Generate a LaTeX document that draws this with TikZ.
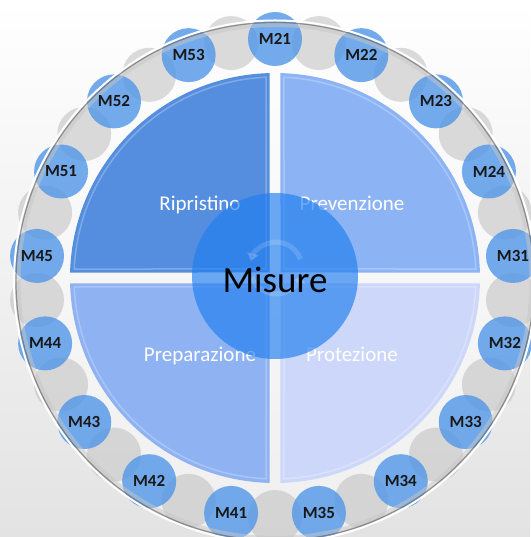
\documentclass[tikz,border=0pt]{standalone}
\usepackage{fontspec}
\setmainfont{Carlito}
\usetikzlibrary{arrows.meta}
\definecolor{bubblue}{RGB}{80,150,232}
\definecolor{bubgray}{RGB}{185,185,185}
\definecolor{qrip}{RGB}{85,142,222}
\definecolor{qprev}{RGB}{140,180,245}
\definecolor{qprep}{RGB}{142,178,242}
\definecolor{qprot}{RGB}{205,215,250}
\definecolor{coreblue}{RGB}{30,125,240}
\begin{document}
\begin{tikzpicture}[x=1pt,y=1pt,
  bubble/.style={circle, minimum size=54pt, inner sep=0pt, fill=bubblue, fill opacity=0.8, text opacity=1},
  bublabel/.style={font=\fontsize{17}{20}\selectfont\bfseries, inner sep=0pt, text=black!90},
  graybub/.style={fill=bubgray, fill opacity=0.5},
  qlabel/.style={text=white, font=\fontsize{21}{24}\selectfont, anchor=base, inner sep=0pt},
  bevel/.style={draw=white, draw opacity=0.25, line width=1.5pt},
  rimdark/.style={draw=black!55, draw opacity=0.75, line width=1.2pt},
  rimlight/.style={draw=white, line width=2pt},
  rimshade/.style={draw=black!22, draw opacity=0.5, line width=4pt},
  recyc/.style={white, opacity=0.15, line width=5pt, -{Triangle[length=8pt,width=12pt]}},
]
\useasboundingbox (-275,-259) rectangle (255,278);
\shade[shading angle=45, top color=white, bottom color=black!11] (-275,-259) rectangle (255,278);
% platter
\fill[white, fill opacity=0.45] (0,-3) circle (258);
% quadrants
\def\g{5.5}
\def\R{205}
\def\gi{9}
\def\Ri{201}
\foreach \rot/\col in {0/qprev, 90/qrip, 180/qprep, 270/qprot} {
  \fill[\col, rotate=\rot] (\g,\g) -- ({asin(\g/\R)}:\R) arc[start angle={asin(\g/\R)}, end angle={90-asin(\g/\R)}, radius=\R] -- cycle;
  \draw[bevel, rotate=\rot] (\gi,\gi) -- ({asin(\gi/\Ri)}:\Ri) arc[start angle={asin(\gi/\Ri)}, end angle={90-asin(\gi/\Ri)}, radius=\Ri] -- cycle;
}
% gray bubbles
\foreach \k in {0,...,16} {
  \fill[graybub] ({90-(\k+0.5)*360/17}:239) circle (27);
}
% blue bubbles
\foreach \k/\lab in {0/M21,1/M22,2/M23,3/M24,4/M31,5/M32,6/M33,7/M34,8/M35,9/M41,10/M42,11/M43,12/M44,13/M45,14/M51,15/M52,16/M53} {
  \node[bubble] (b\lab) at ({90-\k*360/17}:239) {};
}
% rim
\draw[rimshade] (0,-3.5) circle (256.5);
\draw[rimlight] (0,-3.5) circle (261);
\draw[rimdark] (0,-3.5) circle (259);
% bubble labels
\foreach \lab in {M21,M22,M23,M24,M31,M32,M33,M34,M35,M41,M42,M43,M44,M45,M51,M52,M53} {
  \node[bublabel] (t\lab) at (b\lab.center) {\lab};
}
% quadrant labels
\node[qlabel] (rip) at (-75,67) {Ripristino};
\node[qlabel] (prev) at (77,67) {Prevenzione};
\node[qlabel] (prep) at (-75,-84) {Preparazione};
\node[qlabel] (prot) at (77,-84) {Protezione};
% core
\node[circle, fill=coreblue, fill opacity=0.65, minimum size=166pt, inner sep=0pt] (core) at (0,2) {};
\draw[recyc] (1,10) ++(20:26) arc[start angle=20, end angle=165, radius=26];
\draw[recyc] (1,10) ++(200:26) arc[start angle=200, end angle=345, radius=26];
\node[font=\fontsize{37}{40}\selectfont, anchor=base, inner sep=0pt] (misure) at (0,-15) {Misure};
\end{tikzpicture}
\end{document}
